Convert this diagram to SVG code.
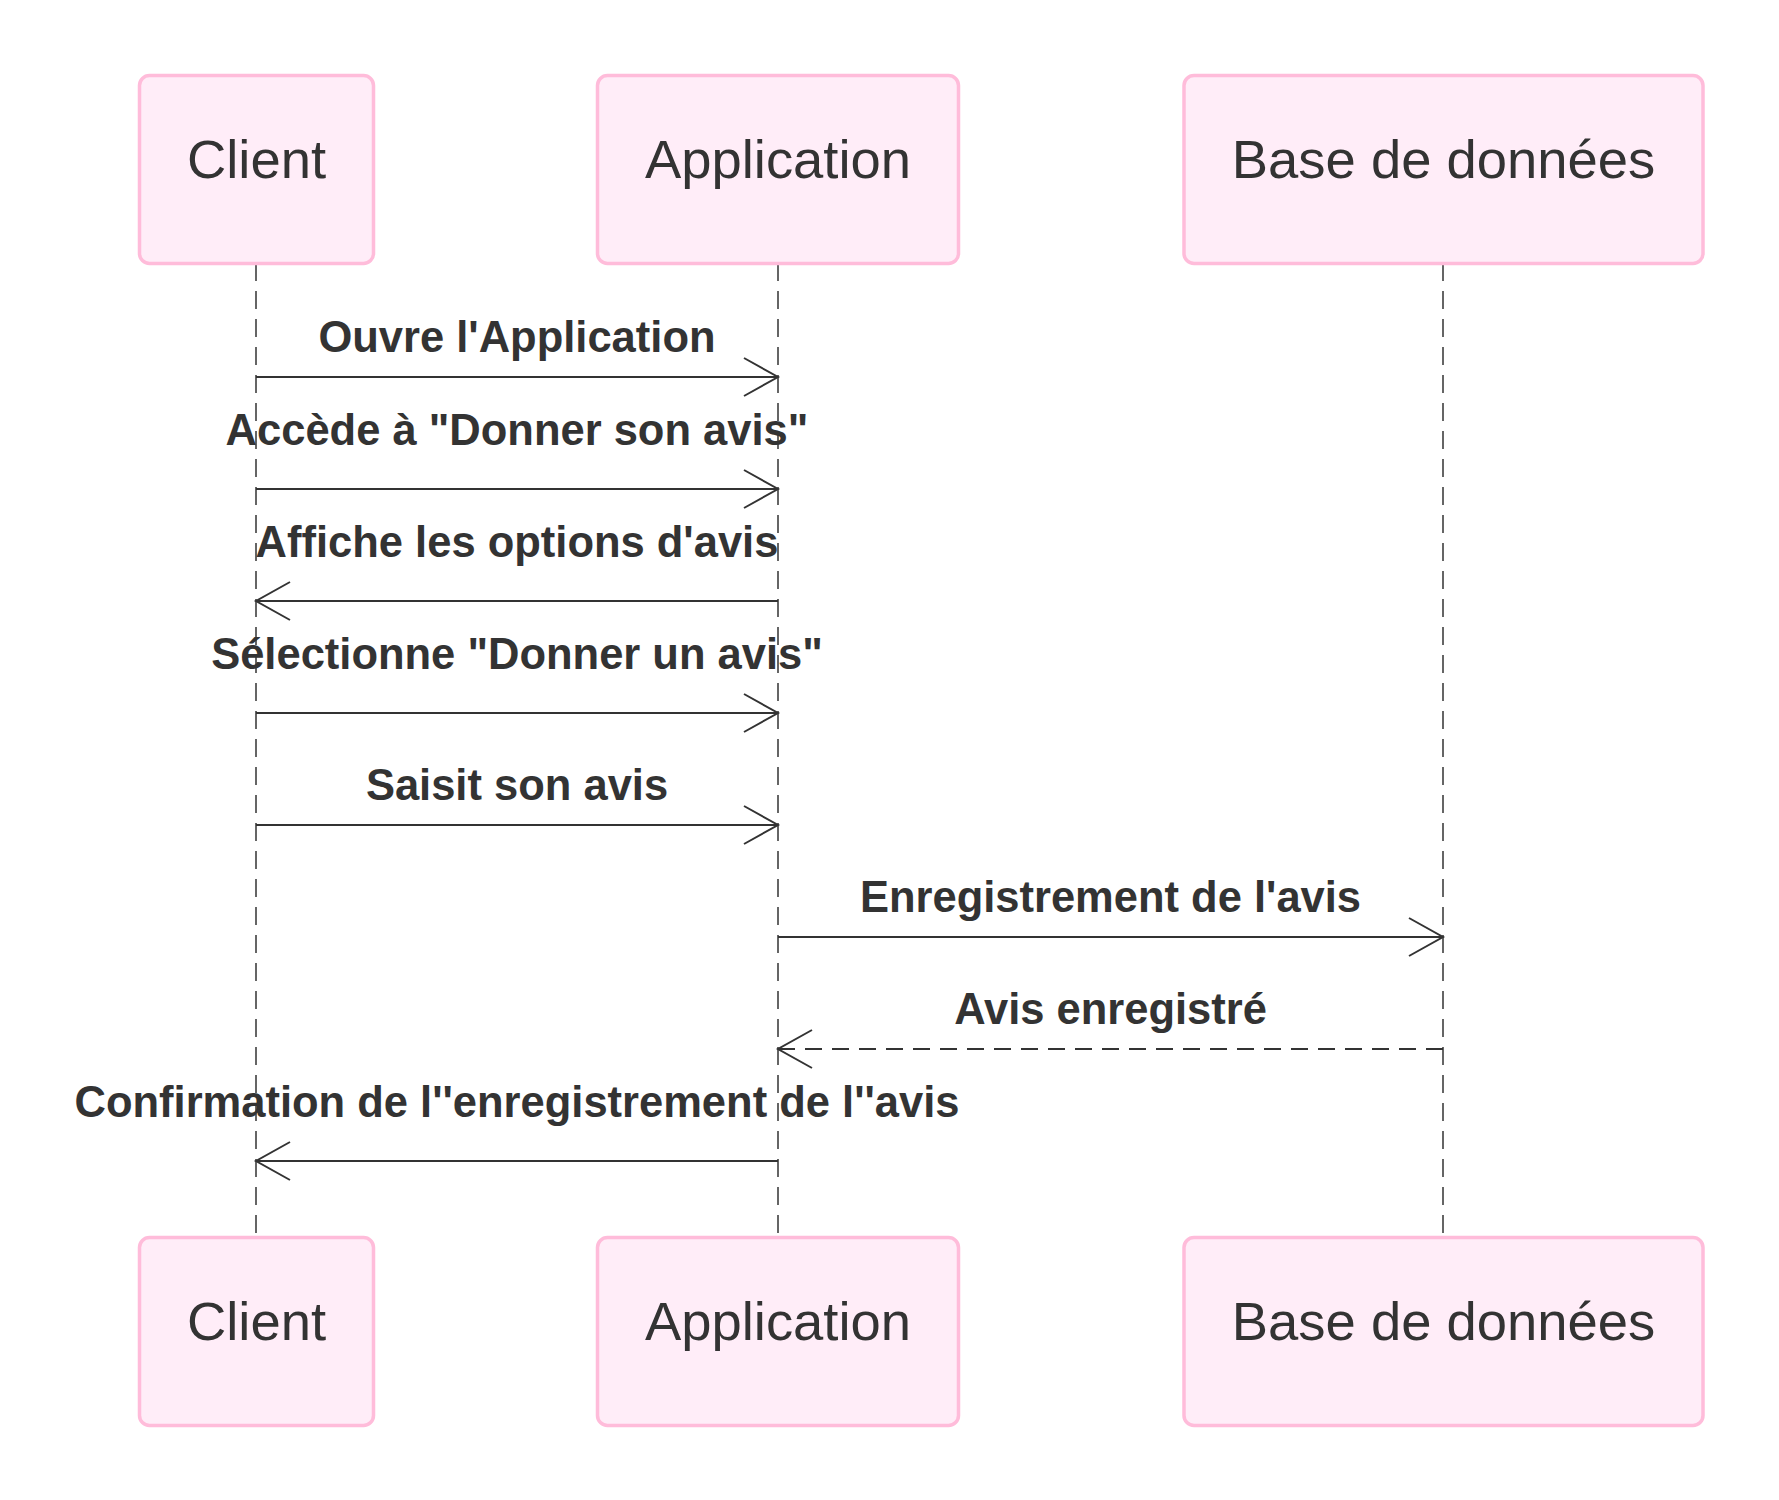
<svg xmlns="http://www.w3.org/2000/svg" width="1779" height="1500" viewBox="0 0 1779 1500">
<style>
.box{fill:#FFEDF8;stroke:#FFBCDA;stroke-width:3.5}
.atext{font-family:"Liberation Sans",Arial,sans-serif;font-size:54.4px;fill:#333;text-anchor:middle}
.life{stroke:#333;stroke-width:1.5;stroke-dasharray:18 10;fill:none}
.msg{stroke:#333;stroke-width:2;fill:none}
.dash{stroke-dasharray:17 10}
.mtext{font-family:"Liberation Sans",Arial,sans-serif;font-weight:bold;font-size:43.5px;fill:#333;text-anchor:middle}
</style>
<defs>
<marker id="arr" viewBox="0 0 40 40" refX="36" refY="20" markerWidth="40" markerHeight="40" markerUnits="userSpaceOnUse" orient="auto">
<path d="M2,1 L36,20 L2,39" fill="none" stroke="#333" stroke-width="2"/>
</marker>
</defs>
<rect width="1779" height="1500" fill="#fff"/>
<g id="lifelines">
<line class="life" x1="256" y1="263" x2="256" y2="1237"/>
<line class="life" x1="778" y1="263" x2="778" y2="1237"/>
<line class="life" x1="1443" y1="263" x2="1443" y2="1237"/>
</g>
<g id="actor-client-top"><rect class="box" x="139.5" y="75.5" width="234" height="188" rx="10"/><text class="atext" x="256.5" y="178">Client</text></g>
<g id="actor-app-top"><rect class="box" x="597.5" y="75.5" width="361" height="188" rx="10"/><text class="atext" x="778" y="178">Application</text></g>
<g id="actor-db-top"><rect class="box" x="1184" y="75.5" width="519" height="188" rx="10"/><text class="atext" x="1443.5" y="178">Base de données</text></g>
<g id="actor-client-bottom"><rect class="box" x="139.5" y="1237.5" width="234" height="188" rx="10"/><text class="atext" x="256.5" y="1340">Client</text></g>
<g id="actor-app-bottom"><rect class="box" x="597.5" y="1237.5" width="361" height="188" rx="10"/><text class="atext" x="778" y="1340">Application</text></g>
<g id="actor-db-bottom"><rect class="box" x="1184" y="1237.5" width="519" height="188" rx="10"/><text class="atext" x="1443.5" y="1340">Base de données</text></g>
<g id="connectors">
<line class="msg" x1="256" y1="377" x2="778" y2="377" marker-end="url(#arr)"/>
<text class="mtext" x="517" y="351.5">Ouvre l'Application</text>
<line class="msg" x1="256" y1="489" x2="778" y2="489" marker-end="url(#arr)"/>
<text class="mtext" x="517" y="444.5">Accède à "Donner son avis"</text>
<line class="msg" x1="778" y1="601" x2="256" y2="601" marker-end="url(#arr)"/>
<text class="mtext" x="517" y="556.5">Affiche les options d'avis</text>
<line class="msg" x1="256" y1="713" x2="778" y2="713" marker-end="url(#arr)"/>
<text class="mtext" x="517" y="668.5">Sélectionne "Donner un avis"</text>
<line class="msg" x1="256" y1="825" x2="778" y2="825" marker-end="url(#arr)"/>
<text class="mtext" x="517" y="799.5">Saisit son avis</text>
<line class="msg" x1="778" y1="937" x2="1443" y2="937" marker-end="url(#arr)"/>
<text class="mtext" x="1110.5" y="911.5">Enregistrement de l'avis</text>
<line class="msg dash" x1="1443" y1="1049" x2="778" y2="1049" marker-end="url(#arr)"/>
<text class="mtext" x="1110.5" y="1023.5">Avis enregistré</text>
<line class="msg" x1="778" y1="1161" x2="256" y2="1161" marker-end="url(#arr)"/>
<text class="mtext" x="517" y="1116.5">Confirmation de l''enregistrement de l''avis</text>
</g>
</svg>
